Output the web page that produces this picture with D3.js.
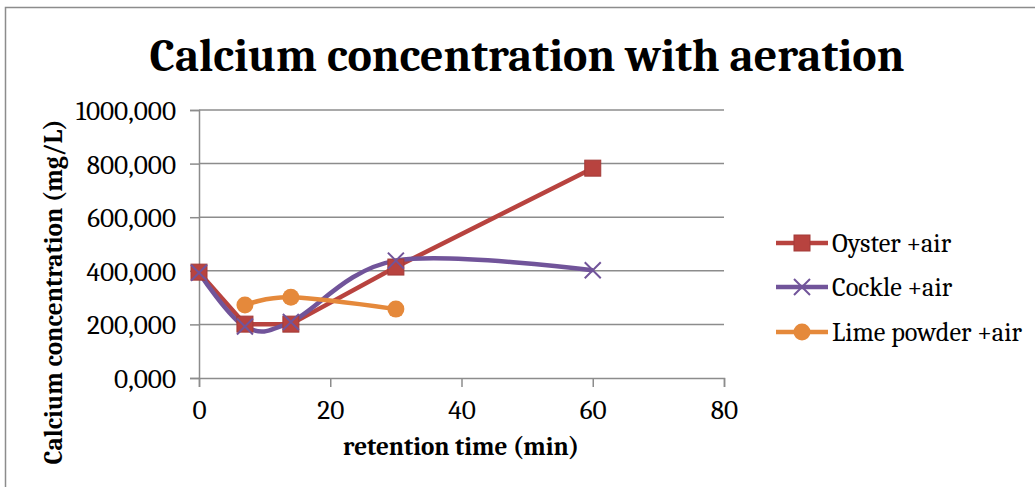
<!DOCTYPE html>
<html><head><meta charset="utf-8">
<script src="https://cdn.jsdelivr.net/npm/d3@7"></script>
<style>body{margin:0;background:#fff}svg{display:block}</style>
</head><body>
<script>
const title = "Calcium concentration with aeration";
const xTitle = "retention time (min)";
const yTitle = "Calcium concentration (mg/L)";
const xTicks = [0, 20, 40, 60, 80];
const yTicks = [0, 200, 400, 600, 800, 1000];
const seriesNames = ["Oyster +air", "Cockle +air", "Lime powder +air"];
const oysterX = [0, 7, 14, 30, 60];
const oysterY = [395, 201, 201, 414, 783];
const cockleX = [0, 7, 14, 30, 60];
const cockleY = [393, 192, 209, 438, 402];
const limeX = [7, 14, 30];
const limeY = [272, 301, 257];

const W = 1035, H = 487;
const svg = d3.select("body").append("svg").attr("width", W).attr("height", H);
svg.append("rect").attr("x", 5.5).attr("y", 7.5).attr("width", 1040).attr("height", 500)
  .attr("fill", "#fff").attr("stroke", "#8c8c8c").attr("stroke-width", 1.5);

const x = d3.scaleLinear().domain([0, 80]).range([199, 724]);
const y = d3.scaleLinear().domain([0, 1000]).range([378, 110]);
const fmt = v => d3.format(".3f")(v).replace(".", ",");
const serif = "Cambria, 'Liberation Serif', 'DejaVu Serif', serif";

function fit(sel, target) {
  const n = sel.node();
  const fs = parseFloat(sel.attr("font-size"));
  const w = n.getComputedTextLength();
  if (w > 0) sel.attr("font-size", fs * target / w);
}

// grid
svg.append("g").selectAll("line").data(yTicks.filter(d => d > 0)).join("line")
  .attr("x1", x(0)).attr("x2", x(80)).attr("y1", d => y(d)).attr("y2", d => y(d))
  .attr("stroke", "#8c8c8c").attr("stroke-width", 1.5);

// axes
const yAxis = svg.append("g").attr("transform", `translate(${x(0)},0)`)
  .call(d3.axisLeft(y).tickValues(yTicks).tickFormat(fmt).tickSize(9).tickPadding(14));
const xAxis = svg.append("g").attr("transform", `translate(0,${y(0)})`)
  .call(d3.axisBottom(x).tickValues(xTicks).tickSize(9).tickPadding(13));
[yAxis, xAxis].forEach(a => {
  a.select(".domain").attr("stroke", "#8c8c8c").attr("stroke-width", 1.5);
  a.selectAll(".tick line").attr("stroke", "#8c8c8c").attr("stroke-width", 1.5);
  a.selectAll("text").attr("font-family", serif).attr("font-size", 20).attr("fill", "#000");
});
yAxis.selectAll("text").attr("dy", "0.35em");
const t1000 = yAxis.selectAll(".tick text").filter(d => d === 1000);
fit(t1000, 100);
const fsTick = t1000.attr("font-size");
yAxis.selectAll("text").attr("font-size", fsTick);
xAxis.selectAll("text").attr("font-size", fsTick);

// titles
const tt = svg.append("text").attr("x", 527).attr("y", 71).attr("text-anchor", "middle")
  .attr("font-family", serif).attr("font-weight", "bold").attr("font-size", 40).text(title);
fit(tt, 755);
const xt = svg.append("text").attr("x", 461).attr("y", 455).attr("text-anchor", "middle")
  .attr("font-family", serif).attr("font-weight", "bold").attr("font-size", 20).text(xTitle);
fit(xt, 236);
const yt = svg.append("text").attr("transform", "translate(62,292) rotate(-90)").attr("text-anchor", "middle")
  .attr("font-family", serif).attr("font-weight", "bold").attr("font-size", 20).text(yTitle);
fit(yt, 345);

const colors = ["#b8433f", "#71549a", "#e5893b"];
const series = [
  {name: seriesNames[0], xs: oysterX, ys: oysterY, color: colors[0], curve: d3.curveLinear, marker: "square"},
  {name: seriesNames[1], xs: cockleX, ys: cockleY, color: colors[1], curve: d3.curveCatmullRom.alpha(0), marker: "x"},
  {name: seriesNames[2], xs: limeX, ys: limeY, color: colors[2], curve: d3.curveCatmullRom.alpha(0), marker: "circle"}
];

function drawMarker(g, type, cx, cy, color) {
  if (type === "square") {
    g.append("rect").attr("x", cx - 8).attr("y", cy - 8).attr("width", 16).attr("height", 16)
      .attr("fill", color).attr("stroke", "#a33b38").attr("stroke-width", 1);
  } else if (type === "x") {
    g.append("path").attr("d", `M${cx-8},${cy-8}L${cx+8},${cy+8}M${cx-8},${cy+8}L${cx+8},${cy-8}`)
      .attr("stroke", color).attr("stroke-width", 2).attr("fill", "none");
  } else {
    g.append("circle").attr("cx", cx).attr("cy", cy).attr("r", 8.5).attr("fill", color);
  }
}

const plot = svg.append("g");
series.forEach(s => {
  const pts = s.xs.map((v, i) => [v, s.ys[i]]);
  plot.append("path").datum(pts)
    .attr("d", d3.line().x(d => x(d[0])).y(d => y(d[1])).curve(s.curve))
    .attr("fill", "none").attr("stroke", s.color).attr("stroke-width", 4.5).attr("stroke-linejoin", "round");
});
series.forEach(s => {
  s.xs.forEach((v, i) => drawMarker(plot, s.marker, x(v), y(s.ys[i]), s.color));
});

// legend
const legRows = [243, 287, 332];
const legTexts = [];
series.forEach((s, i) => {
  const g = svg.append("g");
  const cy = legRows[i];
  g.append("line").attr("x1", 776).attr("x2", 828).attr("y1", cy).attr("y2", cy)
    .attr("stroke", s.color).attr("stroke-width", 4.5);
  drawMarker(g, s.marker, 802, cy, s.color);
  legTexts.push(g.append("text").attr("x", 832).attr("y", cy).attr("dy", "0.35em")
    .attr("font-family", serif).attr("font-size", fsTick).text(s.name));
});
fit(legTexts[2], 190);
const fsLeg = legTexts[2].attr("font-size");
legTexts.forEach(t => t.attr("font-size", fsLeg));
</script>
</body></html>
